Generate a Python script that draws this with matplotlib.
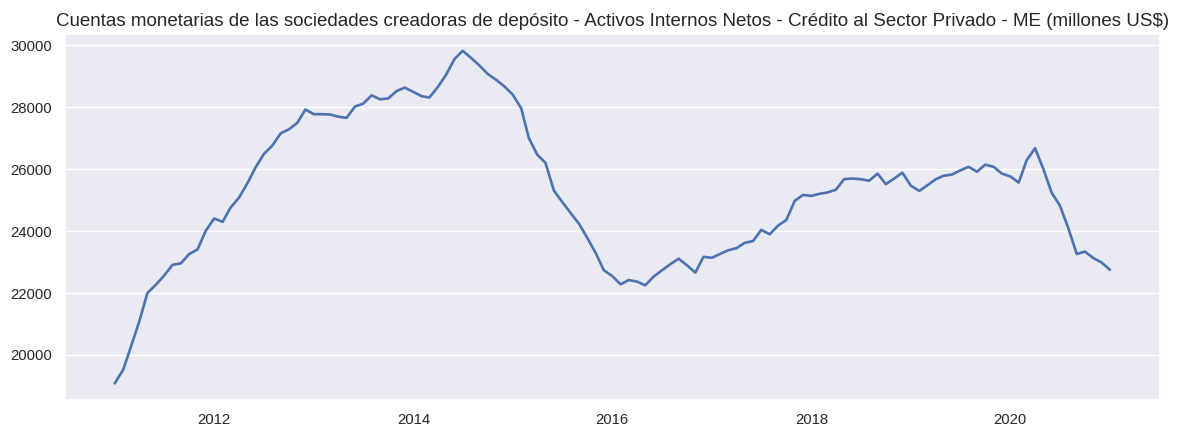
import matplotlib
matplotlib.use("Agg")
import matplotlib.pyplot as plt
import matplotlib.dates as mdates
import seaborn as sns
import pandas as pd

start_month = "2011-01-01"
n_months = 121
values = [
    19080, 19520, 20250, 21080, 22000, 22270, 22560, 22910, 22960, 23260,
    23410, 24010, 24410, 24300, 24760, 25080, 25530, 26060, 26490, 26760,
    27160, 27290, 27500, 27930, 27780, 27780, 27770, 27700, 27660, 28030,
    28120, 28390, 28260, 28290, 28530, 28640, 28500, 28360, 28320, 28660,
    29050, 29560, 29830, 29600, 29350, 29080, 28890, 28680, 28410, 27970,
    27010, 26470, 26210, 25310, 24950, 24590, 24240, 23790, 23300, 22740,
    22550, 22280, 22420, 22370, 22250, 22530, 22730, 22930, 23110, 22900,
    22660, 23170, 23140, 23270, 23380, 23450, 23620, 23680, 24040, 23900,
    24180, 24360, 24980, 25170, 25140, 25210, 25250, 25340, 25680, 25700,
    25680, 25630, 25860, 25520, 25700, 25890, 25470, 25300, 25470, 25670,
    25790, 25830, 25960, 26080, 25920, 26150, 26080, 25860, 25770, 25570,
    26290, 26680, 26020, 25240, 24830, 24100, 23260, 23340, 23130, 22990,
    22750,
]
title = ("Cuentas monetarias de las sociedades creadoras de depósito - "
         "Activos Internos Netos - Crédito al Sector Privado - ME (millones US$)")

dates = pd.date_range(start_month, periods=n_months, freq="MS")

sns.set_theme(style="darkgrid")
plt.rcParams["font.family"] = ["Liberation Sans", "DejaVu Sans"]

fig = plt.figure(figsize=(11.81, 4.32), dpi=100)
ax = fig.add_axes([0.055, 0.074, 0.927, 0.847])
ax.plot(dates, values, color="#4C72B0", linewidth=1.9)
ax.xaxis.set_major_locator(mdates.YearLocator(2))
ax.xaxis.set_major_formatter(mdates.DateFormatter("%Y"))
ax.grid(False, axis="x")
ax.tick_params(labelsize=10.7, labelcolor="#262626")
ax.set_title(title, fontsize=13.5)
fig.savefig("out.png", dpi=100)
